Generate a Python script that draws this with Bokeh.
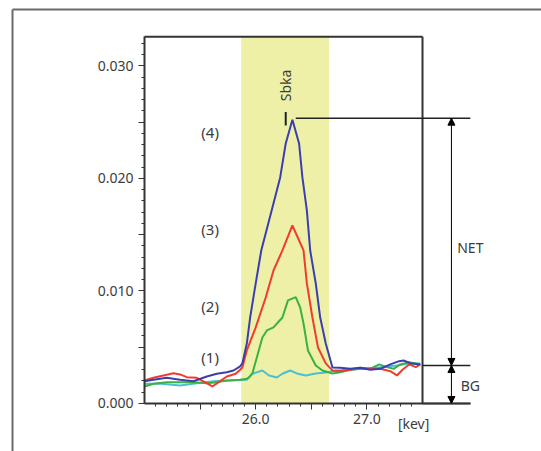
import numpy as np
from bokeh.plotting import figure
from bokeh.models import FixedTicker, Arrow, NormalHead
from bokeh.core.properties import value
from bokeh.embed import file_html
from bokeh.resources import INLINE

# ---- data (energy in keV, intensity) ----
e_blue = [25.00, 25.08, 25.20, 25.32, 25.44, 25.56, 25.65, 25.74, 25.80, 25.86, 25.88, 25.92,
          25.95, 26.00, 26.05, 26.12, 26.19, 26.22, 26.27, 26.33, 26.39, 26.42, 26.46, 26.49,
          26.54, 26.58, 26.63, 26.69, 26.76, 26.85, 26.94, 27.03, 27.12, 27.21, 27.29, 27.33,
          27.39, 27.48]
i_blue = [0.00198, 0.00211, 0.00228, 0.00211, 0.00198, 0.00240, 0.00264, 0.00278, 0.00293, 0.00330,
          0.00356, 0.00533, 0.00764, 0.01067, 0.01360, 0.01627, 0.01893, 0.02009, 0.02311, 0.02522,
          0.02311, 0.02009, 0.01716, 0.01360, 0.01067, 0.00764, 0.00533, 0.00320, 0.00317, 0.00308,
          0.00317, 0.00300, 0.00308, 0.00347, 0.00376, 0.00382, 0.00358, 0.00347]

e_red = [25.00, 25.08, 25.17, 25.26, 25.32, 25.38, 25.47, 25.56, 25.61, 25.68, 25.74, 25.82,
         25.86, 25.88, 25.92, 26.00, 26.09, 26.16, 26.24, 26.33, 26.43, 26.46, 26.51, 26.56,
         26.63, 26.69, 26.76, 26.85, 26.94, 27.03, 27.12, 27.21, 27.27, 27.32, 27.38, 27.44, 27.48]
i_red = [0.00204, 0.00228, 0.00249, 0.00269, 0.00258, 0.00234, 0.00228, 0.00180, 0.00151, 0.00198,
         0.00240, 0.00264, 0.00300, 0.00320, 0.00471, 0.00676, 0.00942, 0.01182, 0.01360, 0.01582,
         0.01360, 0.01067, 0.00764, 0.00498, 0.00356, 0.00293, 0.00287, 0.00300, 0.00317, 0.00308,
         0.00308, 0.00287, 0.00249, 0.00300, 0.00347, 0.00323, 0.00347]

e_green = [25.00, 25.08, 25.20, 25.32, 25.44, 25.56, 25.65, 25.74, 25.86, 25.92, 25.94, 25.97,
           26.01, 26.06, 26.10, 26.16, 26.24, 26.29, 26.36, 26.40, 26.43, 26.47, 26.54, 26.60,
           26.69, 26.76, 26.85, 26.94, 27.03, 27.11, 27.18, 27.24, 27.30, 27.38, 27.48]
i_green = [0.00151, 0.00175, 0.00189, 0.00189, 0.00189, 0.00180, 0.00189, 0.00204, 0.00211, 0.00220,
           0.00231, 0.00267, 0.00409, 0.00587, 0.00649, 0.00676, 0.00764, 0.00916, 0.00945, 0.00853,
           0.00711, 0.00471, 0.00338, 0.00293, 0.00267, 0.00278, 0.00300, 0.00308, 0.00308, 0.00347,
           0.00323, 0.00308, 0.00347, 0.00367, 0.00347]

e_cyan = [25.00, 25.15, 25.32, 25.47, 25.62, 25.77, 25.92, 25.97, 26.06, 26.12, 26.19, 26.24,
          26.31, 26.37, 26.45, 26.54, 26.63, 26.72, 26.82, 26.97, 27.12, 27.27, 27.39, 27.48]
i_cyan = [0.00175, 0.00175, 0.00160, 0.00180, 0.00198, 0.00204, 0.00211, 0.00264, 0.00293, 0.00249,
          0.00231, 0.00264, 0.00293, 0.00267, 0.00249, 0.00267, 0.00276, 0.00293, 0.00300, 0.00308,
          0.00323, 0.00338, 0.00358, 0.00356]

x_min, x_max = 25.0, 27.5                  # spectrum window
y_min, y_max = 0.0, 0.0326
band = [25.87, 26.66]                      # Sb Ka window
peak_x, peak_top = 26.36, 0.02536          # peak reference line
bg_level = 0.00338                         # background level
arrow_x, line_end = 27.76, 27.93
series_labels = ["(1)", "(2)", "(3)", "(4)"]
label_x = [25.59, 25.59, 25.59, 25.59]
label_y = [0.00412, 0.00862, 0.01547, 0.02412]

x_major = [25.5, 26.0, 26.5, 27.0]
x_labels = ["", "26.0", "", "27.0"]
y_major = [0.0, 0.005, 0.01, 0.015, 0.02, 0.025, 0.03]
y_labels = ["0.000", "", "0.010", "", "0.020", "", "0.030"]

FONT = "Noto Sans"
TXT = "#3c3c3c"
DARK = "#333333"

# whole canvas is the frame; axes are pinned at x=25 and y=0
p = figure(width=541, height=451, x_range=(23.705, 28.570), y_range=(-0.00427, 0.03582),
           output_backend="svg", toolbar_location=None,
           min_border=0, min_border_left=0, min_border_right=0, min_border_top=0, min_border_bottom=0)
p.background_fill_color = "white"
p.border_fill_color = "white"
p.xgrid.visible = False
p.ygrid.visible = False
p.outline_line_color = None

xminor = [round(25.0 + 0.1 * k, 2) for k in range(1, 25)]
p.xaxis.ticker = FixedTicker(ticks=x_major, minor_ticks=xminor)
p.xaxis.major_label_overrides = {t: l for t, l in zip(x_major, x_labels)}
p.xaxis.fixed_location = y_min
p.xaxis.bounds = (x_min, line_end)
yminor = [round(0.001 * k, 3) for k in range(0, 33)]
p.yaxis.ticker = FixedTicker(ticks=y_major, minor_ticks=yminor)
p.yaxis.major_label_overrides = {t: l for t, l in zip(y_major, y_labels)}
p.yaxis.fixed_location = x_min
p.yaxis.bounds = (y_min, y_max)
for ax in (p.xaxis, p.yaxis):
    ax.axis_line_color = DARK
    ax.axis_line_width = 2
    ax.major_tick_line_color = DARK
    ax.minor_tick_line_color = DARK
    ax.major_tick_out = 6
    ax.major_tick_in = 0
    ax.minor_tick_out = 3
    ax.minor_tick_in = 0
    ax.major_label_text_font = FONT
    ax.major_label_text_font_size = "14px"
    ax.major_label_text_color = TXT
    ax.major_label_standoff = 5

# highlighted window
p.quad(left=[band[0]], right=[band[1]], bottom=[y_min], top=[y_max],
       fill_color="#eef0a8", line_color=None)

# spectra
p.line(e_cyan, i_cyan, line_color="#4cbfd0", line_width=2)
p.line(e_green, i_green, line_color="#3cb043", line_width=2)
p.line(e_red, i_red, line_color="#f03c2d", line_width=2)
p.line(e_blue, i_blue, line_color="#3a3fb0", line_width=2)

# plot box (top and right)
p.segment(x0=[x_min, x_max], y0=[y_max, y_min], x1=[x_max, x_max], y1=[y_max, y_max],
          line_color=DARK, line_width=2)

p.text(x=label_x, y=label_y, text=series_labels, text_align="center", text_baseline="middle",
       text_font=value(FONT), text_font_size="15px", text_color=TXT)

# Sbka marker
p.segment(x0=[26.27], y0=[0.0247], x1=[26.27], y1=[0.0259], line_color="#222222", line_width=2)
p.text(x=[26.27], y=[0.02827], text=["Sbka"], angle=np.pi / 2, text_align="center",
       text_baseline="middle", text_font=value(FONT), text_font_size="14px", text_color=TXT)

# reference lines
p.segment(x0=[peak_x, x_max, x_max], y0=[peak_top, bg_level, y_min],
          x1=[line_end, line_end, line_end], y1=[peak_top, bg_level, y_min],
          line_color="#222222", line_width=1.5)

def head():
    return NormalHead(size=7, fill_color="black", line_color="black")

p.add_layout(Arrow(start=head(), end=head(), x_start=arrow_x, y_start=peak_top, x_end=arrow_x,
                   y_end=bg_level, line_color="black", line_width=1))
p.add_layout(Arrow(start=head(), end=head(), x_start=arrow_x, y_start=bg_level, x_end=arrow_x,
                   y_end=y_min, line_color="black", line_width=1))

p.text(x=[line_end, line_end, 27.42], y=[0.01387, 0.0016, -0.00178], text=["NET", "BG", "[kev]"],
       text_align="center", text_baseline="middle", text_font=value(FONT),
       text_font_size=["14px", "14px", "14px"], text_color=TXT)

# outer panel border
p.segment(x0=[23.813, 23.813], y0=[0.03502, 0.03502], x1=[28.7, 23.813], y1=[0.03502, -0.006],
          line_color="#6a6a6a", line_width=2)

open("out.html", "w").write(file_html(p, INLINE))
